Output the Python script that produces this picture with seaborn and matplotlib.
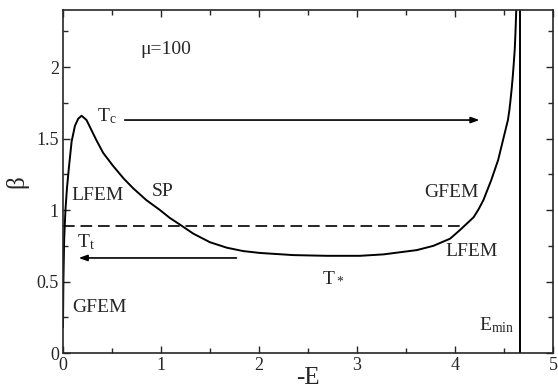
import matplotlib
matplotlib.use("Agg")
import matplotlib.pyplot as plt
import seaborn as sns
import pandas as pd
from matplotlib.ticker import MultipleLocator, FuncFormatter

# ---- data ----
curve_x = [0.0, 0.004, 0.012, 0.025, 0.04, 0.062, 0.088, 0.122, 0.156, 0.19, 0.24, 0.29,
           0.34, 0.41, 0.51, 0.62, 0.72, 0.85, 0.99, 1.09, 1.19, 1.33, 1.50, 1.67, 1.84,
           2.01, 2.35, 2.69, 3.03, 3.27, 3.61, 3.78, 3.95, 4.05, 4.12, 4.19, 4.24, 4.29,
           4.33, 4.37, 4.405, 4.44, 4.465, 4.49, 4.515, 4.54, 4.555, 4.565, 4.58, 4.59,
           4.60, 4.61, 4.618, 4.625]
curve_y = [0.18, 0.5, 0.8, 1.0, 1.15, 1.31, 1.48, 1.59, 1.64, 1.66, 1.63, 1.56,
           1.49, 1.40, 1.31, 1.22, 1.15, 1.07, 1.0, 0.945, 0.9, 0.835, 0.775, 0.737, 0.713,
           0.70, 0.685, 0.68, 0.68, 0.69, 0.72, 0.75, 0.8, 0.86, 0.905, 0.95, 1.005, 1.07,
           1.14, 1.21, 1.28, 1.35, 1.42, 1.49, 1.56, 1.63, 1.70, 1.76, 1.86, 1.94,
           2.03, 2.13, 2.26, 2.4]
tt_x = [0.0, 4.05]
tt_y = [0.89, 0.89]
e_min = 4.66
arrow_tc = (0.63, 4.25, 1.63)   # start x, end x, y
arrow_tt = (1.77, 0.16, 0.665)

labels = [("μ=100", 0.79, 2.09),
          (r"T$_\mathrm{c}$", 0.35, 1.62),
          ("LFEM", 0.09, 1.07),
          ("SP", 0.91, 1.10),
          (r"T$_\mathrm{t}$", 0.14, 0.74),
          ("GFEM", 0.09, 0.29),
          ("GFEM", 3.69, 1.09),
          ("LFEM", 3.90, 0.68),
          (r"T$_*$", 2.64, 0.50),
          (r"E$_\mathrm{min}$", 4.24, 0.16)]

sns.set_style("ticks")
plt.rcParams["font.family"] = ["Liberation Serif", "DejaVu Serif"]
plt.rcParams["mathtext.fontset"] = "custom"
plt.rcParams["mathtext.rm"] = "Liberation Serif"
plt.rcParams["mathtext.it"] = "Liberation Serif:italic"

fig = plt.figure(figsize=(5.58, 3.92), dpi=100)
ax = fig.add_axes([63/558, 1 - 353/392, 490/558, 343/392])

df = pd.DataFrame({"x": curve_x, "y": curve_y})
sns.lineplot(data=df, x="x", y="y", ax=ax, color="black", lw=1.4,
             sort=False, estimator=None)
sns.lineplot(x=tt_x, y=tt_y, ax=ax, color="black", lw=1.2,
             linestyle=(0, (7, 3.5)), estimator=None)
ax.axvline(e_min, color="black", lw=1.4)

for (x0, x1, yy) in (arrow_tc, arrow_tt):
    ax.annotate("", xy=(x1, yy), xytext=(x0, yy),
                arrowprops=dict(arrowstyle="-|>,head_length=0.5,head_width=0.18",
                                color="black", lw=1.2, shrinkA=0, shrinkB=0))

for txt, x, y in labels:
    ax.text(x, y, txt, fontsize=14, ha="left", va="baseline")

ax.set_xlim(0, 5)
ax.set_ylim(0, 2.4)
ax.xaxis.set_major_locator(MultipleLocator(1))
ax.xaxis.set_minor_locator(MultipleLocator(0.5))
ax.yaxis.set_major_locator(MultipleLocator(0.5))
ax.yaxis.set_minor_locator(MultipleLocator(0.25))
fmt = FuncFormatter(lambda v, p: f"{v:g}")
ax.xaxis.set_major_formatter(fmt)
ax.yaxis.set_major_formatter(fmt)
ax.tick_params(which="both", direction="in", top=True, right=True, width=1.0,
               labelsize=13, pad=3)
ax.tick_params(which="major", length=5)
ax.tick_params(which="minor", length=3.5)
for s in ax.spines.values():
    s.set_linewidth(1.2)
    s.set_visible(True)

ax.set_xlabel("-E", fontsize=18, labelpad=-5)
ax.set_ylabel("β", fontsize=18, labelpad=6)

fig.savefig("out.png", dpi=100)
